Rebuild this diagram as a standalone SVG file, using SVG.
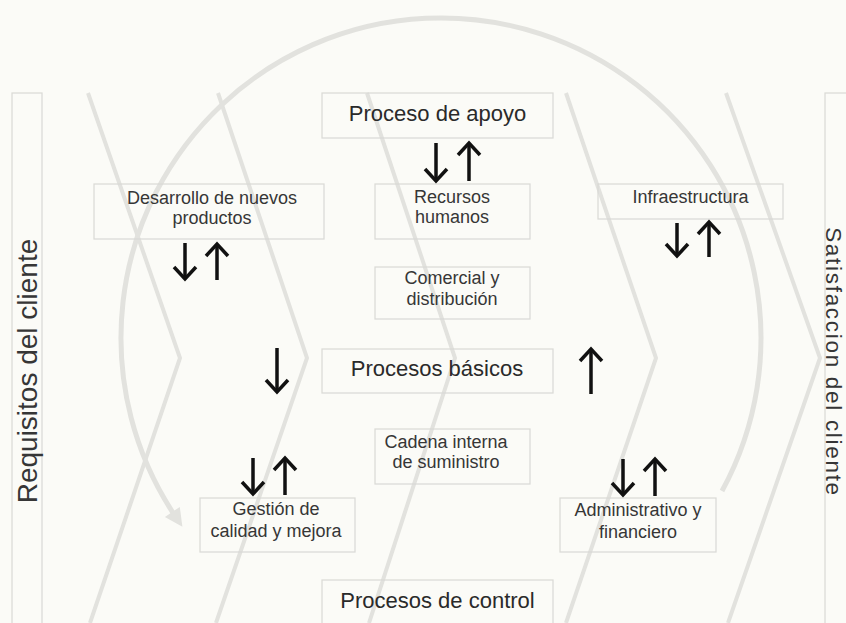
<svg xmlns="http://www.w3.org/2000/svg" width="846" height="623" viewBox="0 0 846 623">
<defs>
<style>
.bg{fill:#fbfbf7}
.guide{fill:none;stroke:#e2e2de;stroke-width:4;stroke-linejoin:miter}
.ring{fill:none;stroke:#e2e2de;stroke-width:5}
.box{fill:none;stroke:#d9d9d5;stroke-width:1.2}
.big{font-family:"Liberation Sans",Arial,sans-serif;font-size:22px;fill:#2a2a2a;text-anchor:middle}
.small{font-family:"Liberation Sans",Arial,sans-serif;font-size:18px;fill:#363636;text-anchor:middle}
.side{font-family:"Liberation Sans",Arial,sans-serif;font-size:27px;fill:#363636;text-anchor:middle}
.arr{fill:none;stroke:#111;stroke-width:3.5;marker-end:url(#head)}
</style>
<marker id="head" markerUnits="userSpaceOnUse" orient="auto" refX="0" refY="0" markerWidth="30" markerHeight="30" viewBox="-15 -15 30 30" overflow="visible">
<path d="M-12,-11 L0,0 L-12,11" fill="none" stroke="#111" stroke-width="3.5" stroke-linejoin="miter"/>
</marker>
<marker id="ringhead" markerUnits="userSpaceOnUse" orient="auto" refX="0" refY="0" markerWidth="40" markerHeight="40" viewBox="-20 -20 40 40" overflow="visible">
<path d="M-6,-9 L12,0 L-6,9 Z" fill="#e2e2de"/>
</marker>
</defs>
<rect class="bg" x="0" y="0" width="846" height="623"/>
<g id="background">
<path class="guide" d="M88,93 L180,358 L90,623"/>
<path class="guide" d="M218,93 L307,358 L216,623"/>
<path class="guide" d="M367,93 L455,358 L369,623"/>
<path class="guide" d="M566,93 L656,358 L566,623"/>
<path class="guide" d="M726,93 L820,358 L728,623"/>
<path class="ring" d="M722,491 A320,320 0 1 0 175.7,516.9" marker-end="url(#ringhead)"/>
</g>
<g id="requisitos">
<rect class="box" x="12" y="93" width="30" height="540"/>
<text class="side" x="37" y="371" style="font-size:28px" transform="rotate(-90 37 371)">Requisitos del cliente</text>
</g>
<g id="satisfaccion">
<rect class="box" x="825" y="93" width="40" height="540"/>
<text class="side" x="825.5" y="362" style="font-size:22.5px;letter-spacing:1.7px" transform="rotate(90 825.5 362)">Satisfaccion del cliente</text>
</g>
<g id="proceso-apoyo">
<rect class="box" x="322" y="93" width="231" height="45"/>
<text class="big" x="437.5" y="121">Proceso de apoyo</text>
</g>
<g id="desarrollo">
<rect class="box" x="94" y="184" width="230" height="55"/>
<text class="small" x="212" y="204">Desarrollo de nuevos</text>
<text class="small" x="212" y="224">productos</text>
</g>
<g id="recursos">
<rect class="box" x="375" y="184" width="155" height="55"/>
<text class="small" x="452" y="203">Recursos</text>
<text class="small" x="452" y="223">humanos</text>
</g>
<g id="infraestructura">
<rect class="box" x="598" y="184" width="185" height="35"/>
<text class="small" x="690.5" y="203">Infraestructura</text>
</g>
<g id="comercial">
<rect class="box" x="375" y="267" width="155" height="52"/>
<text class="small" x="452" y="284">Comercial y</text>
<text class="small" x="452" y="305">distribución</text>
</g>
<g id="procesos-basicos">
<rect class="box" x="322" y="349" width="231" height="44"/>
<text class="big" x="437" y="376">Procesos básicos</text>
</g>
<g id="cadena">
<rect class="box" x="375" y="429" width="155" height="55"/>
<text class="small" x="446" y="448">Cadena interna</text>
<text class="small" x="446" y="468">de suministro</text>
</g>
<g id="gestion">
<rect class="box" x="200" y="498" width="155" height="54"/>
<text class="small" x="276" y="515">Gestión de</text>
<text class="small" x="276" y="537">calidad y mejora</text>
</g>
<g id="administrativo">
<rect class="box" x="560" y="498" width="156" height="54"/>
<text class="small" x="638" y="516">Administrativo y</text>
<text class="small" x="638" y="538">financiero</text>
</g>
<g id="procesos-control">
<rect class="box" x="322" y="580" width="231" height="60"/>
<text class="big" x="437.5" y="608">Procesos de control</text>
</g>
<g id="connectors">
<path class="arr" d="M436,143 L436,181"/>
<path class="arr" d="M469,181 L469,143"/>
<path class="arr" d="M185,243 L185,279"/>
<path class="arr" d="M217,280 L217,244"/>
<path class="arr" d="M677,223 L677,256"/>
<path class="arr" d="M709,257 L709,222"/>
<path class="arr" d="M277,348 L277,392"/>
<path class="arr" d="M591,394 L591,349"/>
<path class="arr" d="M253,458 L253,494"/>
<path class="arr" d="M285,495 L285,458"/>
<path class="arr" d="M623,459 L623,495"/>
<path class="arr" d="M655,496 L655,459"/>
</g>
</svg>
